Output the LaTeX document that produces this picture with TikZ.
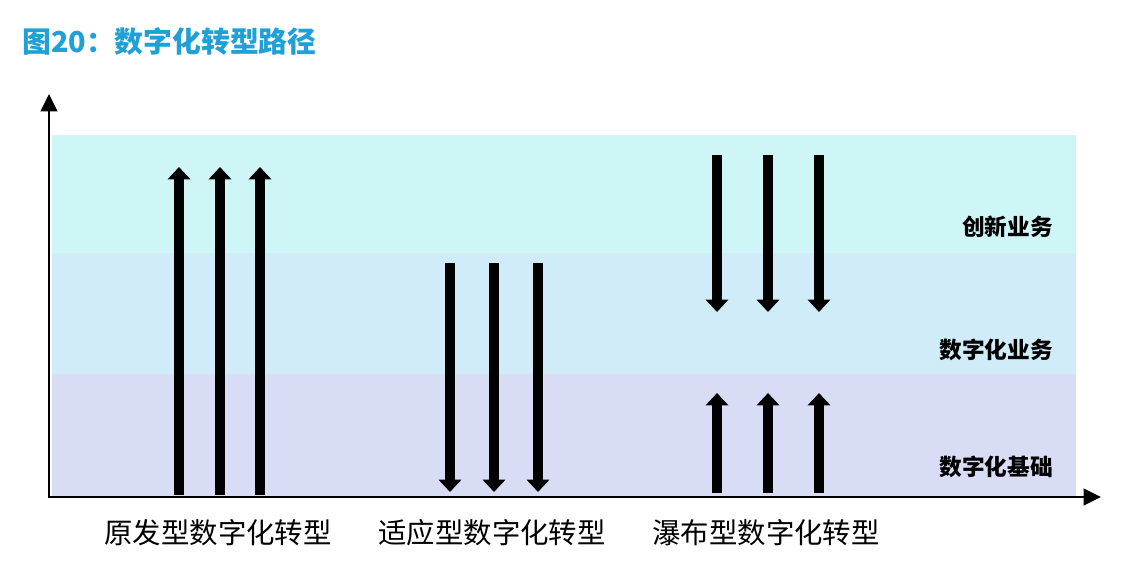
\documentclass[tikz,border=0pt]{standalone}
\usepackage{fontspec}
\setmainfont{Noto Sans CJK SC}
\definecolor{titleblue}{RGB}{31,160,214}
\definecolor{bandtop}{RGB}{206,246,246}
\definecolor{bandmid}{RGB}{208,236,248}
\definecolor{bandlow}{RGB}{216,220,245}
\usetikzlibrary{arrows.meta}

\begin{document}
\begin{tikzpicture}[
        x=0.75pt, y=-0.75pt,
        title/.style={anchor=west, inner sep=0pt, font=\bfseries\fontsize{21.6}{24}\selectfont, text=titleblue},
        level/.style={anchor=east, inner sep=0pt, font=\bfseries\fontsize{17}{20}\selectfont},
        path label/.style={inner sep=0pt, font=\fontsize{21.3}{24}\selectfont},
        axis/.style={line width=1.5pt, line join=miter, {Triangle[width=12.5pt, length=13pt]}-{Triangle[width=12.5pt, length=13pt]}},
        bigarrow/.style={line width=8pt, -{Triangle[width=16.5pt, length=9.2pt]}}
    ]
        \useasboundingbox (0,0) rectangle (1130,572);

        % Title
        \node[title] (TITLE) at (22,42) {图20：数字化转型路径};

        % Bands
        \fill[bandtop] (52,135) rectangle (1076,253);
        \fill[bandmid] (52,253) rectangle (1076,374);
        \fill[bandlow] (52,374) rectangle (1076,496);

        % Axes
        \coordinate (YTOP) at (49,94);
        \coordinate (ORIGIN) at (49,497);
        \coordinate (XEND) at (1101,497);
        \draw[axis] (YTOP) -- (ORIGIN) -- (XEND);

        % Level labels
        \node[level] (INNOV) at (1053,227) {创新业务};
        \node[level] (DIGBIZ) at (1053,350) {数字化业务};
        \node[level] (DIGBASE) at (1053,467) {数字化基础};

        % Original path (bottom up)
        \coordinate (O1S) at (179,495); \coordinate (O1E) at (179,167);
        \coordinate (O2S) at (220,495); \coordinate (O2E) at (220,167);
        \coordinate (O3S) at (260,495); \coordinate (O3E) at (260,167);
        \draw[bigarrow] (O1S) -- (O1E);
        \draw[bigarrow] (O2S) -- (O2E);
        \draw[bigarrow] (O3S) -- (O3E);

        % Adaptive path (top down)
        \coordinate (A1S) at (450,263); \coordinate (A1E) at (450,492);
        \coordinate (A2S) at (494,263); \coordinate (A2E) at (494,492);
        \coordinate (A3S) at (538,263); \coordinate (A3E) at (538,492);
        \draw[bigarrow] (A1S) -- (A1E);
        \draw[bigarrow] (A2S) -- (A2E);
        \draw[bigarrow] (A3S) -- (A3E);

        % Waterfall path (both ways)
        \coordinate (W1S) at (717,155); \coordinate (W1E) at (717,312);
        \coordinate (W2S) at (768,155); \coordinate (W2E) at (768,312);
        \coordinate (W3S) at (819,155); \coordinate (W3E) at (819,312);
        \draw[bigarrow] (W1S) -- (W1E);
        \draw[bigarrow] (W2S) -- (W2E);
        \draw[bigarrow] (W3S) -- (W3E);
        \coordinate (W4S) at (717,493); \coordinate (W4E) at (717,393);
        \coordinate (W5S) at (768,493); \coordinate (W5E) at (768,393);
        \coordinate (W6S) at (819,493); \coordinate (W6E) at (819,393);
        \draw[bigarrow] (W4S) -- (W4E);
        \draw[bigarrow] (W5S) -- (W5E);
        \draw[bigarrow] (W6S) -- (W6E);

        % Path names
        \node[path label] (ORIG) at (218,533) {原发型数字化转型};
        \node[path label] (ADAPT) at (492,533) {适应型数字化转型};
        \node[path label] (WATER) at (766,533) {瀑布型数字化转型};
    \end{tikzpicture}
\end{document}
